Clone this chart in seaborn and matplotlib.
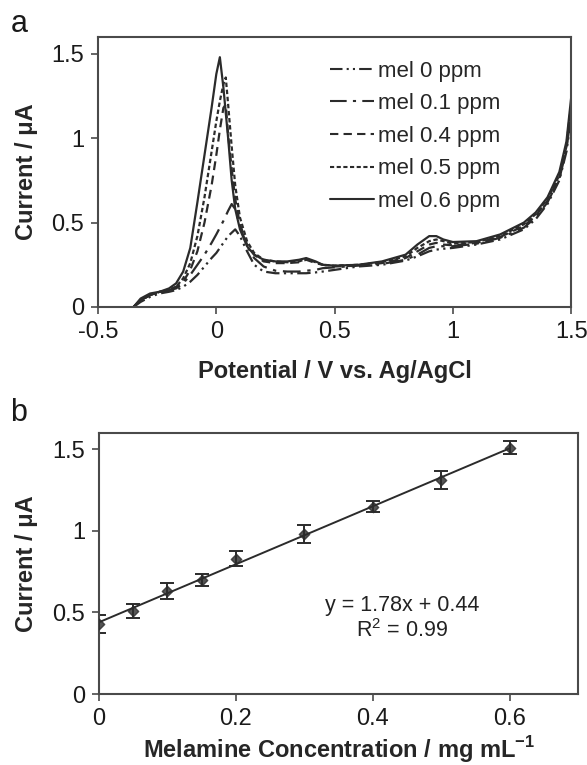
import matplotlib
matplotlib.use("Agg")
import matplotlib.pyplot as plt
import seaborn as sns
import numpy as np
import pandas as pd

sns.set_theme(style="white")
plt.rcParams['font.family'] = ['Liberation Sans', 'DejaVu Sans']
plt.rcParams['mathtext.fontset'] = 'custom'
plt.rcParams['mathtext.rm'] = 'Liberation Sans'
plt.rcParams['mathtext.bf'] = 'Liberation Sans:bold'

# ---------------- Panel a data ----------------
potential = [-0.35, -0.32, -0.28, -0.24, -0.20, -0.17, -0.14, -0.11, -0.08, -0.05,
             -0.02, 0.00, 0.015, 0.03, 0.04, 0.05, 0.065, 0.08, 0.10, 0.13,
             0.16, 0.20, 0.25, 0.30, 0.35, 0.38, 0.42, 0.45, 0.50, 0.60,
             0.70, 0.80, 0.85, 0.90, 0.93, 0.96, 1.00, 1.10, 1.20, 1.30,
             1.35, 1.40, 1.45, 1.48, 1.50]

mel_0 = [0.00, 0.03, 0.06, 0.08, 0.09, 0.10, 0.12, 0.15, 0.19, 0.24,
         0.29, 0.32, 0.35, 0.38, 0.40, 0.42, 0.44, 0.46, 0.42, 0.33,
         0.25, 0.21, 0.20, 0.20, 0.20, 0.20, 0.205, 0.21, 0.22, 0.24,
         0.25, 0.275, 0.30, 0.33, 0.34, 0.345, 0.35, 0.37, 0.40, 0.46,
         0.52, 0.61, 0.75, 0.92, 1.12]
mel_01 = [0.00, 0.04, 0.07, 0.09, 0.10, 0.11, 0.14, 0.19, 0.25, 0.31,
          0.38, 0.43, 0.47, 0.51, 0.54, 0.57, 0.61, 0.58, 0.48, 0.36,
          0.29, 0.24, 0.215, 0.21, 0.21, 0.215, 0.22, 0.23, 0.235, 0.245,
          0.255, 0.28, 0.31, 0.35, 0.36, 0.36, 0.36, 0.375, 0.41, 0.47,
          0.53, 0.62, 0.76, 0.93, 1.15]
mel_04 = [0.00, 0.04, 0.07, 0.09, 0.10, 0.12, 0.15, 0.22, 0.33, 0.50,
          0.72, 0.90, 1.05, 1.18, 1.20, 1.02, 0.82, 0.64, 0.49, 0.37,
          0.31, 0.27, 0.26, 0.26, 0.265, 0.28, 0.26, 0.25, 0.24, 0.245,
          0.26, 0.29, 0.33, 0.37, 0.38, 0.37, 0.365, 0.38, 0.415, 0.48,
          0.54, 0.63, 0.77, 0.95, 1.18]
mel_05 = [0.00, 0.04, 0.07, 0.09, 0.10, 0.12, 0.17, 0.26, 0.42, 0.65,
          0.92, 1.10, 1.22, 1.32, 1.36, 1.20, 0.95, 0.72, 0.53, 0.39,
          0.32, 0.28, 0.27, 0.265, 0.27, 0.285, 0.265, 0.25, 0.245, 0.25,
          0.265, 0.30, 0.35, 0.39, 0.40, 0.39, 0.375, 0.385, 0.42, 0.49,
          0.55, 0.64, 0.78, 0.96, 1.20]
mel_06 = [0.00, 0.05, 0.08, 0.09, 0.11, 0.14, 0.21, 0.35, 0.62, 0.90,
          1.18, 1.38, 1.48, 1.30, 1.15, 1.00, 0.75, 0.58, 0.46, 0.36,
          0.31, 0.28, 0.27, 0.27, 0.28, 0.29, 0.27, 0.25, 0.245, 0.25,
          0.27, 0.31, 0.37, 0.42, 0.42, 0.40, 0.385, 0.39, 0.43, 0.50,
          0.56, 0.65, 0.80, 0.98, 1.24]

series_labels = ["mel 0 ppm", "mel 0.1 ppm", "mel 0.4 ppm", "mel 0.5 ppm", "mel 0.6 ppm"]
series_values = [mel_0, mel_01, mel_04, mel_05, mel_06]
series_styles = [(0, (6, 2, 1, 2, 1, 2)), (0, (8, 3, 1.5, 3)), (0, (4, 2.5)),
                 (0, (2, 1.2)), "-"]

a_xticks = [-0.5, 0, 0.5, 1, 1.5]
a_xticklabels = ["-0.5", "0", "0.5", "1", "1.5"]
yticks = [0, 0.5, 1, 1.5]
yticklabels = ["0", "0.5", "1", "1.5"]

# ---------------- Panel b data ----------------
conc = [0.0, 0.05, 0.1, 0.15, 0.2, 0.3, 0.4, 0.5, 0.6]
current = [0.43, 0.51, 0.63, 0.70, 0.83, 0.98, 1.15, 1.31, 1.51]
current_err = [0.053, 0.043, 0.05, 0.037, 0.045, 0.054, 0.035, 0.055, 0.04]
b_xticks = [0, 0.2, 0.4, 0.6]
b_xticklabels = ["0", "0.2", "0.4", "0.6"]

ink = "#2b2b2b"
spine_col = "#4a4a4a"

fig = plt.figure(figsize=(5.87, 7.65), dpi=100)
axA = fig.add_axes([0.167, 0.5987, 0.806, 0.353])
axB = fig.add_axes([0.1687, 0.0928, 0.816, 0.341])

for lab, vals, ls in zip(series_labels, series_values, series_styles):
    df = pd.DataFrame({"Potential": potential, "Current": vals})
    sns.lineplot(data=df, x="Potential", y="Current", ax=axA, color=ink,
                 linewidth=1.6, label=lab, sort=False)
    axA.lines[-1].set_linestyle(ls)

leg = axA.legend(loc="upper left", bbox_to_anchor=(0.49, 0.912), frameon=False,
                 fontsize=16, handlelength=2.0, handletextpad=0.15,
                 labelspacing=0.52, borderaxespad=0, borderpad=0)
for h, ls in zip(leg.get_lines(), series_styles):
    h.set_linestyle(ls)
    h.set_color(ink)
    h.set_linewidth(1.5)

axA.set_xlim(-0.5, 1.5)
axA.set_ylim(0, 1.6)
axA.set_xticks(a_xticks)
axA.set_xticklabels(a_xticklabels)
axA.set_xlabel("Potential / V vs. Ag/AgCl", fontsize=17, fontweight="bold", labelpad=12)

# Panel b
dfb = pd.DataFrame({"conc": conc, "current": current, "err": current_err})
axB.errorbar(dfb["conc"], dfb["current"], yerr=dfb["err"], fmt="none",
             ecolor=ink, elinewidth=1.4, capsize=5, capthick=1.4, zorder=2)
sns.regplot(data=dfb, x="conc", y="current", ax=axB, ci=None, truncate=True,
            marker="D", scatter_kws={"s": 28, "color": ink, "zorder": 3},
            line_kws={"color": ink, "linewidth": 1.4, "zorder": 2})
axB.set_xlim(0, 0.7)
axB.set_ylim(0, 1.6)
axB.set_xticks(b_xticks)
axB.set_xticklabels(b_xticklabels)
axB.set_xlabel(r"Melamine Concentration / mg mL$^{\mathbf{-1}}$", fontsize=17,
               fontweight="bold", labelpad=3)
axB.text(0.443, 0.54, "y = 1.78x + 0.44", fontsize=15.5, color="#222222",
         ha="center", va="center")
axB.text(0.443, 0.39, r"R$^2$ = 0.99", fontsize=15.5, color="#222222",
         ha="center", va="center")

for ax in (axA, axB):
    ax.set_yticks(yticks)
    ax.set_yticklabels(yticklabels)
    ax.set_ylabel("Current / μA", fontsize=17, fontweight="bold", labelpad=10)
    ax.tick_params(axis="both", labelsize=17, length=5, width=1.2, color=spine_col,
                   direction="out", bottom=True, left=True, pad=5,
                   labelcolor="#1a1a1a")
    for s in ax.spines.values():
        s.set_color(spine_col)
        s.set_linewidth(1.5)
        s.set_visible(True)

fig.text(0.018, 0.958, "a", fontsize=22, color="#1a1a1a")
fig.text(0.018, 0.45, "b", fontsize=22, color="#1a1a1a")

fig.savefig("out.png", dpi=100, facecolor="white")
